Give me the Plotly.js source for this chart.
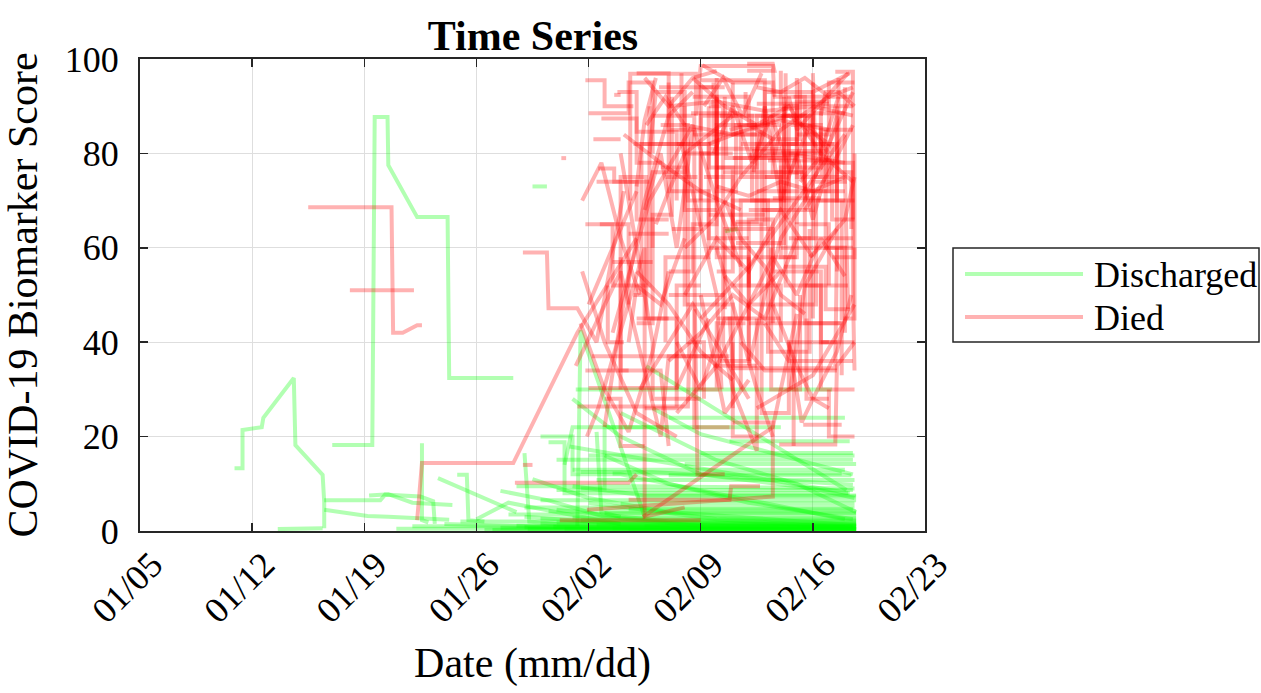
<!DOCTYPE html>
<html><head><meta charset="utf-8">
<script src="https://cdn.plot.ly/plotly-3.0.1.min.js"></script>
<style>html,body{margin:0;padding:0;background:#fff}#chart{width:1261px;height:693px}</style>
</head><body><div id="chart"></div><script>
// x values are days after the start date (01/05/2020)
const startDate = '2020-01-05';
const tickDates = ['2020-01-05','2020-01-12','2020-01-19','2020-01-26','2020-02-02','2020-02-09','2020-02-16','2020-02-23'];
const tickLabels = ['01/05','01/12','01/19','01/26','02/02','02/09','02/16','02/23'];
const yTicks = [0,20,40,60,80,100];
const seriesNames = ['Discharged','Died'];

const dischargedDays = [
 [5.9,6.4,6.4,7.6,7.7,9.6,9.7,11.4,11.5,11.5],
 [8.6,11.4],
 [12.0,14.5,14.65,15.45,15.5,17.3,19.2,19.3,23.3],
 [11.5,15.0,15.3,17.5,18.3,18.4],
 [11.5,14.2,15.5,19.3],
 [14.3,15.5,17.0,19.5],
 [18.6,23.5],
 [17.6,17.6,18.0],
 [19.8,20.4,20.5,21.5],
 [24.5,25.4],
 [36.5,37.3],
 [27.3,27.5,31.5],
 [27.2,43.2],
 [26.8,44.3],
 [31.6,44.1],
 [36.8,44.3],
 [25.5,26.5,26.5,44.2],
 [26.0,44.5],
 [27.0,44.0],
 [28.5,44.6],
 [26.0,44.5],
 [25.0,44.7],
 [24.0,44.6],
 [23.0,44.7],
 [20.0,44.7],
 [17.0,44.7],
 [16.0,44.7],
 [22.0,44.7],
 [19.0,26.0,44.7],
 [24.5,28.0,33.0,44.7],
 [25.0,27.0,27.0,30.0,44.0],
 [27.5,29.0,29.0,40.0],
 [27.0,30.0,35.0,42.0,44.6],
 [29.0,33.0,38.0,44.5],
 [21.0,23.0,26.0,30.0],
 [22.5,25.5,29.0,35.0],
 [30.0,36.0,41.0,44.7],
 [32.0,35.0,44.5],
 [33.0,44.0],
 [26.5,27.0,33.0],
 [24.0,24.3,26.0],
 [28.5,28.8,30.0],
 [35.0,44.5],
 [23.5,31.0,44.6],
 [25.5,44.7],
 [27.0,44.7],
 [24.0,44.7],
 [26.0,44.7],
 [28.0,44.7],
 [21.5,44.7],
 [22.5,44.6],
 [23.5,44.7],
 [24.2,44.7],
 [25.0,44.7],
 [25.8,44.5],
 [26.5,44.7],
 [27.5,44.7],
 [28.5,44.7],
 [29.5,44.6],
 [30.5,44.7],
 [31.5,44.7],
 [32.5,44.7],
 [24.0,30.0,44.7],
 [26.0,33.0,44.7],
 [28.0,36.0,44.7],
 [29.0,44.7],
 [30.0,44.6],
 [31.0,44.7],
 [33.0,44.4],
 [34.0,44.7],
 [27.5,32.0,44.5],
 [28.0,44.6],
 [29.5,43.8],
 [27.0,31.5,44.7],
 [30.5,44.5],
 [25.0,44.7],
 [26.0,44.7]
];
const dischargedScores = [
 [13.3,13.3,21.4,22.0,24.0,32.4,18.2,11.9,6.1,0.6],
 [0.4,0.6],
 [18.2,18.2,87.7,87.7,77.5,66.5,66.5,32.4,32.4],
 [6.5,6.5,7.7,7.3,6.3,1.5],
 [4.5,3.2,3.0,2.4],
 [7.5,7.8,6.0,5.5],
 [11.2,4.0],
 [18.6,2.3,1.8],
 [11.9,11.9,2.3,2.0],
 [73.0,73.0],
 [63.5,64.0],
 [1.0,42.5,3.0],
 [30.0,30.0],
 [17.9,8.0],
 [34.9,8.7],
 [19.0,19.0],
 [18.8,18.8,8.0,8.0],
 [15.1,15.1],
 [13.0,13.0],
 [10.8,10.8],
 [8.7,8.7],
 [6.5,6.5],
 [5.0,5.0],
 [3.5,3.5],
 [2.0,2.0],
 [1.0,1.0],
 [0.5,0.5],
 [0.2,0.2],
 [1.5,0.8,0.3],
 [11.0,7.0,4.0,1.2],
 [20.0,20.0,12.0,12.0,2.5],
 [9.0,9.0,22.0,22.0],
 [28.0,20.0,12.0,9.0,7.0],
 [16.0,10.0,6.0,2.5],
 [2.5,6.0,4.0,1.5],
 [8.5,6.5,3.0,1.0],
 [25.0,15.0,10.0,4.0],
 [26.0,20.5,12.0],
 [24.0,24.0],
 [14.0,22.0,22.0],
 [16.5,2.0,1.5],
 [21.0,4.0,3.0],
 [16.5,16.5],
 [9.5,9.5,9.0],
 [4.2,4.2],
 [2.8,2.8],
 [0.8,0.8],
 [1.4,1.4],
 [0.1,0.1],
 [0.2,0.2],
 [0.7,0.7],
 [1.1,1.1],
 [0.4,0.4],
 [1.6,1.6],
 [0.9,0.9],
 [0.5,0.5],
 [2.2,2.2],
 [1.3,1.3],
 [0.6,0.6],
 [0.2,0.2],
 [1.0,1.0],
 [0.4,0.4],
 [3.0,1.5,0.8],
 [4.5,2.0,1.0],
 [6.0,2.5,0.5],
 [3.8,3.8],
 [5.8,5.8],
 [7.3,7.3],
 [11.8,11.8],
 [14.2,14.2],
 [12.5,12.5,9.8],
 [16.0,16.0],
 [12.2,12.2],
 [9.5,7.5,7.5],
 [4.6,4.6],
 [2.6,2.6],
 [1.8,1.8]
];

const diedDays = [
 [10.5,15.7,15.8,16.4,17.3,17.6],
 [13.1,17.1],
 [17.3,17.6,23.3,27.3,31.0],
 [23.9,25.4,25.5,27.3,28.5,30.2],
 [23.4,30.5,31.0],
 [23.9,24.5],
 [26.3,26.6],
 [29.6,30.0],
 [30.6,30.6,34.7,34.7,35.0,39.5,39.6],
 [32.0,34.6,34.6,34.8,36.5],
 [35.5,36.4,36.4,37.0,38.5,38.5],
 [43.4,44.5,44.5,44.6],
 [28.8,31.0,31.0,33.5,33.5],
 [28.6,29.6,29.6,31.8],
 [27.9,28.6,31.5,31.5,34.0],
 [26.2,35.0],
 [27.9,39.3,39.5,39.5,37.0],
 [31.4,36.8,39.5,41.0],
 [30.5,36.8,36.9,38.7],
 [27.5,29.0,30.5,32.0,33.0],
 [27.2,30.0,32.5,33.0,36.8],
 [28.0,28.3,33.5,35.5],
 [27.3,34.2,34.3],
 [36.8,37.0,43.4,43.5],
 [39.9,43.4,43.5,44.6],
 [41.4,43.8],
 [35.1,37.0,39.5,39.5,42.0,42.0,44.3],
 [37.9,39.5,39.6,37.9],
 [36.5,36.6,38.0,40.0,40.0,43.0,43.0],
 [38.0,41.0,44.0],
 [39.6,40.5,41.0,44.2],
 [37.2,38.5,38.5,41.5,41.5,44.5],
 [40.3,40.3,42.5,42.5,44.6],
 [33.0,33.0,35.5,35.5,38.0],
 [31.8,32.2,34.0,34.0,36.0],
 [30.8,31.3,31.3,33.8,36.0,36.3],
 [31.0,32.0,32.0,33.2,33.2],
 [29.5,31.8,34.5,36.0,37.5],
 [36.2,38.0,38.0,42.2,42.2,44.0],
 [38.8,38.8,40.5,40.5,43.0],
 [41.0,41.0,42.5,43.5,43.5],
 [34.0,35.8,37.5,40.0,43.0],
 [35.0,38.0,41.0,44.0],
 [37.5,37.5,39.2,39.2,41.8,41.8],
 [42.0,42.2,44.0,44.2],
 [31.5,33.0,34.5,36.0],
 [32.5,34.0,34.0,37.0,37.0],
 [30.0,30.0,32.5,33.0],
 [33.5,35.0,36.5,38.0,38.0],
 [40.0,41.5,41.5,43.8,43.8],
 [36.8,38.0,39.5,41.2,41.2],
 [38.3,39.0,40.0,41.0,42.0,43.0],
 [34.2,34.2,35.2,35.2],
 [39.0,40.5,42.0,44.5],
 [28.7,30.5,30.5],
 [42.5,42.8,43.6,44.6],
 [35.5,37.8,40.5,43.0,44.5],
 [31.2,34.5,38.0],
 [36.0,37.0,37.0,40.8,40.8],
 [40.6,41.5,43.5],
 [28.0,30.5,30.5,32.0,32.0],
 [28.5,31.0,31.0,33.0],
 [27.6,29.0,31.0,33.5],
 [27.8,29.5,29.5,31.8,31.8],
 [28.2,36.4],
 [29.0,30.0,31.5,33.0,34.5],
 [30.0,31.0,32.0,32.0,35.0],
 [31.0,33.0,33.0,35.0,35.0,36.5],
 [32.0,32.0,34.0,34.0],
 [33.0,34.5,34.5,36.0,36.0,38.5],
 [34.0,36.0,36.0,38.0,38.0,40.0],
 [35.0,35.0,37.5,37.5,40.5],
 [36.0,38.5,38.5,41.0,41.0,43.0],
 [37.0,37.0,39.0,39.0,42.0],
 [38.0,40.0,40.0,42.5,42.5,44.5],
 [39.0,39.0,41.5,41.5,44.0],
 [40.0,42.0,42.0,44.5,44.5],
 [41.0,43.0,43.0,44.6],
 [34.5,36.5,38.5,40.5,42.5,44.5],
 [33.5,35.5,35.5,37.0,37.0],
 [35.5,38.0,38.0,40.0,40.0],
 [36.5,36.5,39.5,39.5,42.0,42.0],
 [38.5,41.0,41.0,43.0,43.0],
 [40.5,40.5,43.5,43.5,44.6],
 [41.5,43.0,44.5],
 [37.5,39.0,40.5,42.0,43.5],
 [39.5,41.0,42.0,43.5,44.4],
 [34.8,36.0,36.0,37.8],
 [30.2,32.5,35.0,37.5],
 [32.8,32.8,34.0,35.5,35.5],
 [35.8,37.0,38.2,39.4,40.6,41.8,43.0],
 [33.0,36.0,39.0,42.0,44.5],
 [34.0,37.0,40.0,43.0],
 [36.0,38.0,40.0,42.0,44.0],
 [38.5,40.0,41.5,43.0,44.5],
 [40.0,40.0,41.0,41.0],
 [42.8,42.8,44.0,44.0],
 [43.8,43.8,44.6,44.6],
 [29.0,30.0,30.0,31.5],
 [31.0,33.5,33.5],
 [33.5,36.0,38.0,40.0],
 [36.0,37.5,38.5,39.5],
 [38.0,39.0,40.0,41.5,43.0],
 [31.5,32.5,33.5,34.5],
 [30.5,31.0,32.5,34.0],
 [37.0,38.0,38.0,39.5,39.5],
 [39.0,40.0,40.0,41.0],
 [41.5,42.5,42.5,43.5],
 [35.0,36.5,38.0],
 [40.5,41.3,42.0,43.0],
 [36.5,37.5,39.0,40.0,41.5],
 [32.2,33.0,34.0,35.5,37.0],
 [41.8,43.0,44.0,44.6],
 [42.0,44.0],
 [39.5,42.5],
 [37.0,41.0],
 [34.5,38.5],
 [35.5,39.0],
 [38.5,43.0],
 [30.8,34.0],
 [29.5,32.0],
 [40.5,44.5],
 [36.0,40.0],
 [33.0,36.5],
 [41.5,44.2],
 [43.0,43.0,44.6],
 [27.8,30.5],
 [38.0,43.8],
 [35.0,39.0,39.0],
 [31.0,31.5,32.2],
 [27.8,29.0,29.0,30.8],
 [28.3,30.0],
 [27.6,28.8,30.0,31.2],
 [28.0,29.5,31.0],
 [30.0,30.0,31.6,31.6,33.0],
 [31.5,33.5,33.5,35.0],
 [32.5,34.2,34.2,36.0,36.0],
 [33.2,35.0,35.0,37.0],
 [34.5,36.0,36.0,38.0,38.0],
 [35.2,37.0,37.0,39.0,39.0],
 [36.2,38.2,38.2,40.2,40.2],
 [37.5,39.5,39.5,41.5],
 [38.5,40.5,40.5,42.5,42.5],
 [39.5,41.5,41.5,43.5,43.5],
 [40.5,42.5,42.5,44.5],
 [41.0,42.0,42.0,44.0,44.0],
 [42.0,43.2,43.2,44.6],
 [36.0,36.0,37.2,37.2,38.5],
 [33.8,33.8,35.8,35.8],
 [37.8,37.8,41.8,41.8],
 [39.2,43.2],
 [38.2,42.8],
 [35.6,40.0],
 [36.4,41.4],
 [40.8,44.4],
 [34.4,37.4],
 [32.4,35.8],
 [38.8,42.0,42.0],
 [37.0,37.0,38.6],
 [39.4,39.4,41.2,41.2],
 [41.6,41.6,43.0],
 [43.2,44.6,44.6],
 [34.0,36.0,38.0,40.0,42.0],
 [31.0,33.0,35.0,37.0],
 [33.0,35.0,37.0,39.0,41.0],
 [36.5,38.0,39.5,41.0,42.5,44.0],
 [29.8,31.0,31.0,32.6],
 [32.8,34.8],
 [30.5,33.0],
 [35.8,38.5],
 [38.5,42.0,44.6],
 [40.2,42.8,42.8,44.3],
 [42.5,44.6],
 [29.2,29.2,30.2],
 [34.6,34.6,36.8],
 [37.2,40.2,40.2],
 [43.6,43.6,44.4,44.4],
 [41.2,42.4,43.6],
 [35.2,36.4,37.6,38.8],
 [31.6,32.8,34.0]
];
const diedScores = [
 [68.6,68.6,42.0,42.0,43.6,43.6],
 [51.0,51.0],
 [2.3,14.4,14.4,42.0,62.0],
 [59.0,59.0,47.2,47.2,40.0,72.0],
 [10.2,10.2,12.0],
 [14.0,14.0],
 [79.0,79.0],
 [92.4,92.4],
 [70.0,96.9,96.9,88.0,98.5,98.5,92.0],
 [88.0,88.0,55.0,12.0,12.0],
 [90.0,90.0,40.0,30.0,17.0,45.0],
 [97.3,97.3,51.0,34.0],
 [87.4,87.4,84.6,84.6,70.0],
 [76.8,76.8,74.0,74.0],
 [20.0,26.0,60.0,3.0,5.0],
 [2.3,2.3],
 [4.5,7.3,7.3,23.0,23.0],
 [3.0,15.5,22.0,46.0],
 [6.6,6.6,9.5,9.5],
 [44.0,30.0,21.0,38.0,55.0],
 [35.0,55.0,20.0,37.0,37.0],
 [30.3,30.3,30.3,45.0],
 [26.4,26.4,40.0],
 [45.4,34.5,34.5,60.0],
 [18.3,18.3,35.0,40.0],
 [22.5,22.5],
 [98.7,95.0,95.0,82.0,82.0,93.0,97.0],
 [99.0,99.0,97.5,97.5],
 [92.0,79.0,79.0,79.0,72.0,72.0,79.5],
 [79.6,79.6,78.0],
 [79.6,92.0,85.0,97.0],
 [65.5,65.5,88.0,88.0,60.0,60.0],
 [97.0,52.0,52.0,30.0,30.0],
 [95.0,72.0,72.0,62.0,62.0],
 [80.0,93.0,93.0,68.0,68.0],
 [50.0,50.0,82.0,82.0,50.0,30.0],
 [44.0,44.0,67.0,67.0,92.0],
 [42.0,70.0,86.0,70.0,56.0],
 [36.0,36.0,48.0,48.0,70.0,70.0],
 [85.0,25.0,25.0,40.0,40.0],
 [96.0,75.0,75.0,88.0,55.0],
 [60.0,66.0,75.0,85.0,92.0],
 [45.0,56.0,70.0,84.0],
 [30.0,70.0,70.0,38.0,38.0,64.0],
 [97.0,75.0,75.0,47.0],
 [96.0,90.0,96.0,97.5],
 [77.0,77.0,48.0,48.0,26.0],
 [58.0,34.0,34.0,18.0],
 [40.0,30.0,45.0,45.0,58.0],
 [60.0,60.0,44.0,44.0,33.0],
 [85.0,86.0,83.0,83.0,95.0],
 [76.0,90.0,70.0,80.0,66.0,78.0],
 [74.0,40.0,40.0,28.0],
 [44.0,36.0,36.0,36.0],
 [65.0,65.0,48.0],
 [88.0,93.0,93.0,90.0],
 [82.0,85.0,88.0,82.0,93.0],
 [30.0,48.0,28.0],
 [55.0,55.0,70.0,70.0,18.0],
 [30.0,52.0,64.0],
 [88.5,88.5,95.0,95.0,80.0],
 [74.0,74.0,66.0,66.0],
 [55.0,40.0,25.0,20.0],
 [65.0,65.0,52.0,52.0,90.0],
 [37.0,37.0],
 [22.0,45.0,70.0,88.0,93.0],
 [80.0,60.0,40.0,28.0,28.0],
 [97.0,97.0,85.0,85.0,94.0,94.0],
 [60.0,76.0,76.0,90.0],
 [55.0,55.0,65.0,65.0,86.0,86.0],
 [80.0,80.0,92.0,92.0,86.0,86.0],
 [70.0,88.0,88.0,75.0,75.0],
 [77.0,77.0,82.0,82.0,91.0,91.0],
 [95.0,84.0,84.0,93.0,93.0],
 [68.0,68.0,77.0,77.0,85.0,85.0],
 [90.0,80.0,80.0,72.0,72.0],
 [88.0,88.0,78.0,78.0,66.0],
 [84.0,84.0,95.0,95.0],
 [96.0,90.0,86.0,90.0,80.0,74.0],
 [82.0,82.0,77.0,77.0,58.0],
 [60.0,60.0,52.0,52.0,40.0],
 [47.0,64.0,64.0,55.0,55.0,45.0],
 [58.0,58.0,65.0,65.0,52.0],
 [66.0,82.0,82.0,70.0,70.0],
 [68.0,76.0,86.0],
 [40.0,34.0,34.0,34.0,34.0],
 [48.0,35.0,28.0,38.0,50.0],
 [30.0,30.0,44.0,44.0],
 [84.0,78.0,72.0,68.0],
 [40.0,58.0,58.0,58.0,90.0],
 [80.0,90.0,78.0,88.0,76.0,86.0,80.0],
 [90.0,91.0,89.0,90.0,88.0],
 [86.0,84.0,87.0,85.0],
 [73.0,71.0,74.0,72.0,75.0],
 [94.0,93.0,96.0,92.0,94.0],
 [97.5,90.0,90.0,65.0],
 [85.0,60.0,60.0,42.0],
 [70.0,45.0,45.0,60.0],
 [28.0,28.0,18.0,18.0],
 [45.0,45.0,30.0],
 [25.0,35.0,48.0,55.0],
 [60.0,42.0,30.0,20.0],
 [35.0,50.0,62.0,70.0,82.0],
 [68.0,80.0,60.0,85.0],
 [40.0,52.0,48.0,62.0],
 [52.0,52.0,66.0,66.0,44.0],
 [75.0,75.0,58.0,58.0],
 [55.0,55.0,40.0,40.0],
 [50.0,25.0,32.0],
 [40.0,23.0,28.0,26.0],
 [70.0,62.0,56.0,50.0,46.0],
 [65.0,72.0,80.0,84.0,88.0],
 [58.0,62.0,66.0,75.0],
 [88.5,88.5],
 [70.5,70.5],
 [79.0,79.0],
 [84.0,84.0],
 [67.0,67.0],
 [90.5,90.5],
 [82.0,82.0],
 [57.0,57.0],
 [62.0,62.0],
 [45.0,45.0],
 [50.0,50.0],
 [52.0,52.0],
 [30.0,20.0,20.0],
 [34.0,34.0],
 [44.0,44.0],
 [95.5,95.5,86.0],
 [73.0,87.0,96.0],
 [95.5,95.5,90.0,90.0],
 [83.0,83.0],
 [70.0,78.0,62.0,50.0],
 [48.0,60.0,72.0],
 [30.0,75.0,75.0,45.0,45.0],
 [26.0,26.0,52.0,52.0],
 [86.0,86.0,70.0,70.0,92.0],
 [64.0,64.0,80.0,80.0],
 [92.0,92.0,58.0,58.0,36.0],
 [75.0,75.0,65.0,65.0,80.0],
 [88.0,88.0,70.0,70.0,90.0],
 [82.0,82.0,76.0,76.0],
 [72.0,72.0,86.0,86.0,78.0],
 [92.0,92.0,70.0,70.0,90.0],
 [80.0,80.0,90.0,90.0],
 [62.0,62.0,74.0,74.0,94.0],
 [82.0,82.0,66.0,66.0],
 [96.0,72.0,72.0,86.0,86.0],
 [97.0,82.0,82.0,95.0],
 [93.0,88.0,88.0,84.0],
 [78.5,78.5],
 [80.5,80.5],
 [81.0,81.0],
 [76.0,76.0],
 [92.0,92.0],
 [88.5,88.5],
 [94.0,94.0],
 [68.0,68.0,95.0],
 [40.0,20.0,20.0],
 [60.0,30.0,30.0,50.0],
 [45.0,28.0,28.0],
 [58.0,58.0,80.0],
 [50.0,62.0,55.0,68.0,58.0],
 [55.0,48.0,38.0,32.0],
 [36.0,42.0,50.0,45.0,62.0],
 [54.0,48.0,58.0,50.0,62.0,54.0],
 [93.0,93.0,78.0,78.0],
 [75.0,75.0],
 [63.0,63.0],
 [35.0,35.0],
 [26.0,33.0,48.0],
 [56.0,56.0,47.0,47.0],
 [40.0,40.0],
 [52.0,40.0,40.0],
 [47.0,22.0,22.0],
 [61.0,61.0,92.0],
 [96.0,76.0,76.0,64.0],
 [74.0,79.0,92.0],
 [90.0,96.0,88.0,97.0],
 [86.0,92.0,86.0]
];

const greenColor = 'rgba(0,255,0,0.3)';
const redColor = 'rgba(255,0,0,0.3)';
const serif = 'Liberation Serif, Times New Roman, serif';
const base = Date.parse(startDate + 'T00:00:00Z');
function toDate(d){ return new Date(base + d*86400000).toISOString().slice(0,19).replace('T',' '); }

const traces = [];
function addGroup(daysList, scoresList, color, name){
  daysList.forEach((days, i) => {
    traces.push({
      type:'scatter', mode:'lines', name:name, legendgroup:name, showlegend:false,
      x: days.map(toDate), y: scoresList[i],
      line:{color:color, width:4}, hoverinfo:'skip'
    });
  });
}
addGroup(dischargedDays, dischargedScores, greenColor, seriesNames[0]);
addGroup(diedDays, diedScores, redColor, seriesNames[1]);

// plot-area edges in pixels, used to place the hand-drawn legend box
const L = 140, R = 925, T = 59, B = 531;
const px = v => (v - L) / (R - L);
const py = v => (B - v) / (B - T);

const layout = {
  width:1261, height:693,
  margin:{l:L, r:1261-R, t:T, b:693-B},
  paper_bgcolor:'#fff', plot_bgcolor:'#fff',
  font:{family:serif, color:'#000'},
  showlegend:false,
  title:{text:'<b>Time Series</b>', font:{family:serif, size:42, color:'#000'},
         x:px(533), xref:'paper', xanchor:'center', y:1-35/693, yref:'container', yanchor:'middle'},
  xaxis:{
    type:'date', range:[tickDates[0], tickDates[tickDates.length-1]],
    tickvals:tickDates, ticktext:tickLabels, tickangle:-45,
    tickfont:{family:serif, size:36, color:'#000'},
    ticklabelshift:12, ticklabelstandoff:-4,
    ticks:'inside', ticklen:8, tickwidth:1.5, tickcolor:'#262626',
    showline:true, linecolor:'#262626', linewidth:2, mirror:'ticks',
    showgrid:true, gridcolor:'#dedede', gridwidth:1, zeroline:false,
    title:{text:'Date (mm/dd)', font:{family:serif, size:42, color:'#000'}, standoff:18}
  },
  yaxis:{
    range:[0,100], tickvals:yTicks,
    tickfont:{family:serif, size:36, color:'#000'},
    ticks:'inside', ticklen:8, tickwidth:1.5, tickcolor:'#262626',
    showline:true, linecolor:'#262626', linewidth:2, mirror:'ticks',
    showgrid:true, gridcolor:'#dedede', gridwidth:1, zeroline:false,
    ticklabelstandoff:12,
    title:{text:'COVID-19 Biomarker Score', font:{family:serif, size:42, color:'#000'}, standoff:14}
  },
  shapes:[
    {type:'rect', xref:'paper', yref:'paper', x0:px(953), x1:px(1259), y0:py(342), y1:py(248),
     line:{color:'#262626', width:1.5}, fillcolor:'#fff'},
    {type:'line', xref:'paper', yref:'paper', x0:px(965), x1:px(1083), y0:py(274), y1:py(274),
     line:{color:greenColor, width:4}},
    {type:'line', xref:'paper', yref:'paper', x0:px(965), x1:px(1083), y0:py(317), y1:py(317),
     line:{color:redColor, width:4}}
  ],
  annotations:[
    {xref:'paper', yref:'paper', x:px(1092), y:py(275), xanchor:'left', yanchor:'middle', showarrow:false,
     text:seriesNames[0], font:{family:serif, size:36, color:'#000'}},
    {xref:'paper', yref:'paper', x:px(1092), y:py(318), xanchor:'left', yanchor:'middle', showarrow:false,
     text:seriesNames[1], font:{family:serif, size:36, color:'#000'}}
  ]
};

Plotly.newPlot('chart', traces, layout, {staticPlot:true, displayModeBar:false});
</script></body></html>
